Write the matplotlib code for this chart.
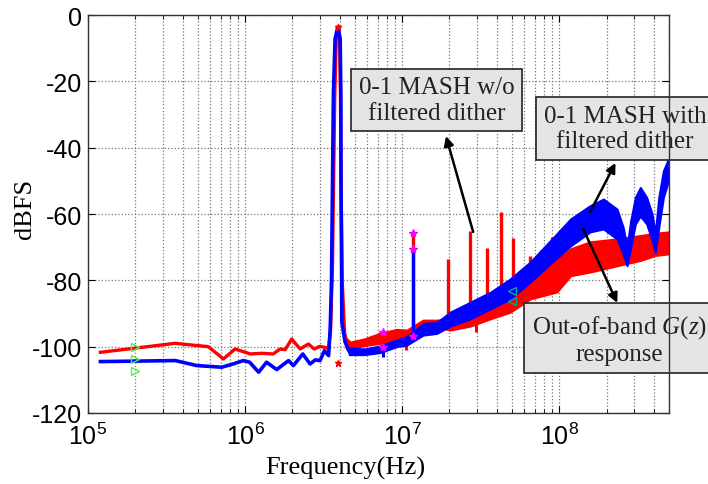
import matplotlib
matplotlib.use("Agg")
import matplotlib.pyplot as plt
from matplotlib.ticker import LogLocator, NullLocator
import numpy as np

# low frequency part + carrier peak (Hz, dBFS)
red_f = [1.2e5, 1.95e5, 3.58e5, 5.83e5, 7.28e5, 8.63e5, 1.08e6, 1.28e6, 1.51e6,
         1.67e6, 1.8e6, 1.98e6, 2.24e6, 2.53e6, 2.75e6, 3.0e6, 3.2e6, 3.4e6,
         3.5e6, 3.6e6, 3.66e6, 3.72e6, 3.8e6, 3.92e6, 4.0e6, 4.05e6, 4.08e6,
         4.15e6, 4.3e6, 4.5e6]
red_db = [-101.7, -100.5, -99.0, -100.0, -103.7, -100.7, -102.2, -102.0, -102.2,
          -100.7, -100.9, -97.7, -100.7, -99.2, -100.7, -99.9, -100.2, -100.5,
          -95, -75, -50, -25, -8, -3.7, -7, -25, -50,
          -80, -96, -99.5]

blue_f = [1.2e5, 3.6e5, 4.92e5, 7.1e5, 8.4e5, 9.75e5, 1.07e6, 1.22e6, 1.37e6,
          1.59e6, 1.89e6, 2.03e6, 2.33e6, 2.59e6, 2.8e6, 3.0e6, 3.2e6, 3.4e6,
          3.48e6, 3.55e6, 3.6e6, 3.65e6, 3.74e6, 3.89e6, 4.03e6, 4.07e6, 4.08e6,
          4.12e6, 4.13e6, 4.33e6, 4.6e6]
blue_db = [-104.5, -104.2, -105.7, -106.2, -105.2, -104.2, -104.7, -107.7, -104.7,
           -106.9, -104.2, -105.7, -102.2, -105.2, -104.0, -104.2, -101.2, -102.7,
           -95, -80, -51, -23.5, -7.2, -3.6, -7.2, -23.5, -51,
           -80, -92.6, -98.6, -101.4]

# noisy high frequency part: lower / upper envelope of the trace
red_band_f = [4.4e6, 4.67e6, 5.7e6, 7.2e6, 9.2e6, 1.07e7, 1.36e7, 1.66e7, 2.02e7,
              2.71e7, 3.64e7, 4.87e7, 6.53e7, 9.66e7, 1.18e8, 1.57e8, 2.33e8,
              3.28e8, 4.08e8, 5e8]
red_band_lo = [-100.5, -100.7, -99.7, -99.0, -98.6, -99.0, -94.5, -94.0, -95.0,
               -93.8, -91.6, -89.6, -85.6, -83.5, -78.6, -77.5, -75.6,
               -74.0, -72.5, -72.0]
red_band_hi = [-97.5, -98.6, -97.7, -96.0, -94.8, -95.0, -92.0, -92.0, -91.6,
               -89.6, -87.0, -85.6, -77.5, -73.6, -70.5, -68.4, -67.5,
               -66.5, -65.8, -65.4]

blue_band_f = [4.6e6, 5.7e6, 7.2e6, 9.2e6, 1.07e7, 1.36e7, 1.66e7, 2.02e7, 2.71e7,
               3.64e7, 4.87e7, 6.53e7, 9e7, 1.18e8, 1.57e8, 1.91e8, 2.33e8,
               2.55e8, 2.7e8, 2.85e8, 3.05e8, 3.28e8, 3.6e8, 3.9e8, 4.08e8,
               4.3e8, 4.6e8, 4.95e8]
blue_band_lo = [-102.4, -102.4, -101.8, -100.0, -99.5, -96.5, -96.0, -93.8, -91.6,
                -88.6, -85.6, -80.5, -74.5, -69.6, -65.4, -64.5, -67.5,
                -72.0, -75.6, -70.0, -63.0, -60.6, -63.0, -68.0, -71.5,
                -64.0, -55.0, -50.0]
blue_band_hi = [-100.3, -100.7, -99.8, -98.0, -97.0, -93.0, -92.7, -89.6, -86.6,
                -83.6, -79.6, -74.5, -67.5, -61.5, -57.5, -55.5, -58.5,
                -64.0, -70.0, -62.0, -55.0, -52.0, -55.0, -60.0, -66.0,
                -55.0, -47.0, -43.4]

# spurs sticking out of the traces (freq, top, bottom)
red_spur_f = [1.18e7, 1.95e7, 2.71e7, 3.49e7, 4.25e7, 5.05e7, 6.5e7, 7.7e7, 8.97e7]
red_spur_top = [-65.7, -73.6, -65.0, -70.3, -59.5, -67.2, -72.7, -71.0, -67.0]
red_spur_bot = [-96.0, -94.0, -91.0, -89.0, -87.0, -86.0, -82.0, -80.0, -78.0]
red_dip_f = [1.06e7, 2.96e7]
red_dip_top = [-96.0, -92.0]
red_dip_bot = [-101.0, -95.6]
blue_spur_f = [1.18e7]
blue_spur_top = [-70.5]
blue_spur_bot = [-97.0]
blue_dip_f = [7.6e6]
blue_dip_top = [-100.0]
blue_dip_bot = [-103.0]

# marker points
red_mk_f = [3.9e6, 3.9e6]
red_mk_db = [-3.7, -105.0]
mag_mk_f = [7.57e6, 7.57e6, 1.18e7, 1.18e7, 1.18e7]
mag_mk_db = [-95.6, -100.0, -65.7, -70.5, -96.8]
grn_mk_f = [2e5, 2e5, 2e5]
grn_mk_db = [-100.1, -103.7, -107.3]
cyn_mk_f = [5e7, 5e7]
cyn_mk_db = [-83.2, -86.2]

y_ticks = [-120, -100, -80, -60, -40, -20, 0]

plt.rcParams['font.family'] = ['Liberation Sans', 'DejaVu Sans']
plt.rcParams['axes.unicode_minus'] = False
plt.rcParams['mathtext.fontset'] = 'custom'
plt.rcParams['mathtext.rm'] = 'Liberation Serif'
plt.rcParams['mathtext.it'] = 'Liberation Serif:italic'

fig = plt.figure(figsize=(7.08, 4.85), dpi=100)
ax = fig.add_axes([0.1243, 0.1464, 0.8207, 0.8206])

RED = '#ff0000'
BLUE = '#0000ff'

ax.plot(red_f, red_db, color=RED, lw=2.4, zorder=2)
ax.fill_between(red_band_f, red_band_lo, red_band_hi, color=RED, lw=1.5, zorder=2)
ax.vlines(red_spur_f, red_spur_bot, red_spur_top, color=RED, lw=2.4, zorder=2)
ax.vlines(red_dip_f, red_dip_bot, red_dip_top, color=RED, lw=2.2, zorder=2)

ax.plot(blue_f, blue_db, color=BLUE, lw=2.6, zorder=2.1)
ax.fill_between(blue_band_f, blue_band_lo, blue_band_hi, color=BLUE, lw=1.5, zorder=2.1)
ax.vlines(blue_spur_f, blue_spur_bot, blue_spur_top, color=BLUE, lw=2.4, zorder=2.1)
ax.vlines(blue_dip_f, blue_dip_bot, blue_dip_top, color=BLUE, lw=2.2, zorder=2.1)

ax.plot(red_mk_f, red_mk_db, '*', color=RED, ms=5, zorder=2.2)
ax.plot(mag_mk_f, mag_mk_db, '*', color='#ff00ff', ms=6, zorder=2.2)
ax.plot(grn_mk_f, grn_mk_db, '>', mfc='none', mec='#55ee55', ms=6, zorder=2.2)
ax.plot(cyn_mk_f, cyn_mk_db, '<', mfc='none', mec='#00aa88', ms=6, zorder=2.2)

ax.set_xscale('log')
ax.set_xlim(1e5, 5e8)
ax.set_ylim(-120, 0)
ax.set_yticks(y_ticks)
ax.yaxis.set_minor_locator(NullLocator())
ax.xaxis.set_major_locator(LogLocator(base=10, numticks=10))
ax.xaxis.set_minor_locator(LogLocator(base=10, subs=np.arange(2, 10), numticks=20))
ax.grid(True, which='major', ls=':', color='#777777', lw=0.9)
ax.grid(True, which='minor', axis='x', ls=':', color='#777777', lw=0.9)
ax.tick_params(which='both', direction='in', top=True, right=True, labelsize=18)
ax.tick_params(which='major', length=5)
ax.tick_params(which='minor', length=3)
ax.tick_params(axis='x', pad=7)
ax.tick_params(axis='y', pad=4)
for s in ax.spines.values():
    s.set_linewidth(1.0)
    s.set_color('#333333')

ax.set_ylabel('dBFS', family='Liberation Serif', fontsize=19)
ax.yaxis.set_label_coords(-0.09, 0.515)
ax.set_xlabel('Frequency(Hz)', family='Liberation Serif', fontsize=19)
ax.xaxis.set_label_coords(0.442, -0.108)

box = dict(boxstyle='square,pad=0.3', fc='#e4e4e4', ec='#222222', lw=1.2)
txt = dict(family='Liberation Serif', fontsize=18, color='#222222', ha='center',
           va='center', linespacing=1.2, bbox=box, zorder=2.3)
ax.text(1.65e7, -25.6, '0-1 MASH w/o\nfiltered dither', **txt)
ax.text(2.62e8, -34.2, '0-1 MASH with\nfiltered dither', clip_on=False, **txt)
ax.text(2.42e8, -97.7, 'Out-of-band $G$($z$)\nresponse', clip_on=False, **txt)

arw = dict(arrowstyle='-|>', color='black', lw=1.8, mutation_scale=14,
           shrinkA=0, shrinkB=0)
ax.annotate('', xy=(1.9e7, -36.5), xytext=(2.83e7, -65.4), arrowprops=arw, zorder=2.4)
ax.annotate('', xy=(2.28e8, -44.6), xytext=(1.57e8, -59.4), arrowprops=arw, zorder=2.4)
ax.annotate('', xy=(2.34e8, -86.8), xytext=(1.42e8, -64.5), arrowprops=arw, zorder=2.4)

fig.savefig('out.png', dpi=100)
